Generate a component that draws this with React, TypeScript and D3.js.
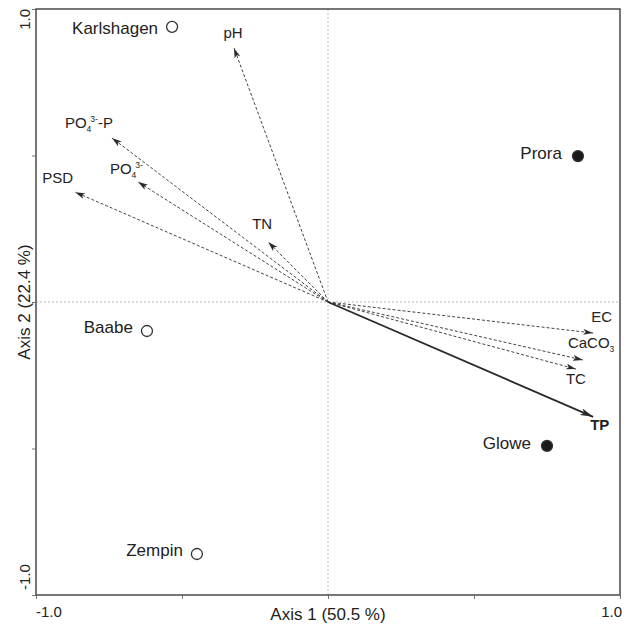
import React, { useEffect, useRef } from 'react'
import * as d3 from 'd3'

// ordination scores
const sites = ['Karlshagen', 'Prora', 'Baabe', 'Glowe', 'Zempin']
const siteAxis1 = [-0.534, 0.856, -0.62, 0.75, -0.449]
const siteAxis2 = [0.939, 0.498, -0.099, -0.491, -0.86]
const siteFilled = [false, true, false, true, false]

const variables = ['pH', 'PO4-P', 'PO4', 'PSD', 'TN', 'EC', 'CaCO3', 'TC', 'TP']
const varAxis1 = [-0.322, -0.74, -0.651, -0.866, -0.205, 0.908, 0.873, 0.849, 0.908]
const varAxis2 = [0.867, 0.56, 0.41, 0.375, 0.205, -0.106, -0.198, -0.229, -0.392]

const axisTicks = [-1, -0.5, 0, 0.5, 1]
const axis1Title = 'Axis 1 (50.5 %)'
const axis2Title = 'Axis 2 (22.4 %)'

// label placement, px from the point / arrow tip
const siteLabelPos: Record<string, [number, number]> = {
	Karlshagen: [-14, 1],
	Prora: [-16, -3],
	Baabe: [-14, -4],
	Glowe: [-16, -3],
	Zempin: [-14, -4],
}
const varLabelPos: Record<string, [number, number, string]> = {
	pH: [-1, -10, 'middle'],
	'PO4-P': [1, -10, 'end'],
	PO4: [5, -8, 'end'],
	PSD: [-2, -9, 'end'],
	TN: [-6, -13, 'middle'],
	EC: [-2, -11, 'start'],
	CaCO3: [-15, -12, 'start'],
	TC: [-10, 15, 'start'],
	TP: [-3, 13, 'start'],
}

type Part = { t: string; shift?: 'sub' | 'sup' }
const labelParts = (name: string): Part[] => {
	if (name === 'PO4-P') return [{ t: 'PO' }, { t: '4', shift: 'sub' }, { t: '3-', shift: 'sup' }, { t: '-P' }]
	if (name === 'PO4') return [{ t: 'PO' }, { t: '4', shift: 'sub' }, { t: '3-', shift: 'sup' }]
	if (name === 'CaCO3') return [{ t: 'CaCO' }, { t: '3', shift: 'sub' }]
	return [{ t: name }]
}

export default function App() {
	const ref = useRef<SVGSVGElement>(null)

	useEffect(() => {
		const svg = d3.select(ref.current)
		svg.selectAll('*').remove()

		const x = d3.scaleLinear().domain([-1, 1]).range([36, 620])
		const y = d3.scaleLinear().domain([-1, 1]).range([595, 9])

		const defs = svg.append('defs')
		const marker = (id: string, w: number, h: number) =>
			defs
				.append('marker')
				.attr('id', id)
				.attr('markerUnits', 'userSpaceOnUse')
				.attr('markerWidth', w)
				.attr('markerHeight', h)
				.attr('refX', w)
				.attr('refY', h / 2)
				.attr('orient', 'auto')
				.append('path')
				.attr('d', `M0,0L${w},${h / 2}L0,${h}L${w * 0.25},${h / 2}Z`)
				.attr('fill', '#2a2a2a')
		marker('arrow', 10, 6)
		marker('arrowBig', 13, 7)

		// centre lines
		svg
			.append('line')
			.attr('x1', x(0))
			.attr('x2', x(0))
			.attr('y1', y(1))
			.attr('y2', y(-1))
			.attr('stroke', '#aaa')
			.attr('stroke-width', 0.8)
			.attr('stroke-dasharray', '2,2')
		svg
			.append('line')
			.attr('x1', x(-1))
			.attr('x2', x(1))
			.attr('y1', y(0))
			.attr('y2', y(0))
			.attr('stroke', '#aaa')
			.attr('stroke-width', 0.8)
			.attr('stroke-dasharray', '2,2')

		// ticks
		const gx = svg
			.append('g')
			.attr('transform', `translate(0,${y(-1)})`)
			.call(d3.axisBottom(x).tickValues(axisTicks).tickSize(4).tickFormat(() => ''))
		const gy = svg
			.append('g')
			.attr('transform', `translate(${x(-1)},0)`)
			.call(d3.axisLeft(y).tickValues(axisTicks).tickSize(4).tickFormat(() => ''))
		;[gx, gy].forEach((g) => {
			g.select('.domain').remove()
			g.selectAll('line').attr('stroke', '#777')
		})

		// frame
		svg
			.append('rect')
			.attr('x', x(-1))
			.attr('y', y(1))
			.attr('width', x(1) - x(-1))
			.attr('height', y(-1) - y(1))
			.attr('fill', 'none')
			.attr('stroke', '#555')
			.attr('stroke-width', 1.6)

		const font = "'Liberation Sans', Arial, sans-serif"
		const txt = '#222'

		// tick labels
		svg.append('text').attr('x', x(-1)).attr('y', 617).attr('font-size', 15).attr('fill', txt).text('-1.0')
		svg
			.append('text')
			.attr('x', x(1) + 2)
			.attr('y', 617)
			.attr('text-anchor', 'end')
			.attr('font-size', 15)
			.attr('fill', txt)
			.text('1.0')
		svg
			.append('text')
			.attr('transform', `translate(30,${y(1)}) rotate(-90)`)
			.attr('text-anchor', 'end')
			.attr('font-size', 15)
			.attr('fill', txt)
			.text('1.0')
		svg
			.append('text')
			.attr('transform', `translate(30,${y(-1) - 5}) rotate(-90)`)
			.attr('font-size', 15)
			.attr('fill', txt)
			.text('-1.0')

		// axis titles
		svg
			.append('text')
			.attr('x', x(0))
			.attr('y', 620)
			.attr('text-anchor', 'middle')
			.attr('font-size', 17)
			.attr('fill', txt)
			.text(axis1Title)
		svg
			.append('text')
			.attr('transform', `translate(30,${y(0)}) rotate(-90)`)
			.attr('text-anchor', 'middle')
			.attr('font-size', 17)
			.attr('fill', txt)
			.text(axis2Title)

		// environmental vectors
		variables.forEach((v, i) => {
			const isTP = v === 'TP'
			const tx = x(varAxis1[i])
			const ty = y(varAxis2[i])
			svg
				.append('line')
				.attr('x1', x(0))
				.attr('y1', y(0))
				.attr('x2', tx)
				.attr('y2', ty)
				.attr('stroke', isTP ? '#2a2a2a' : '#444')
				.attr('stroke-width', isTP ? 1.8 : 1)
				.attr('stroke-dasharray', isTP ? null : '3,2')
				.attr('marker-end', `url(#${isTP ? 'arrowBig' : 'arrow'})`)

			const [dx, dy, anchor] = varLabelPos[v]
			const t = svg
				.append('text')
				.attr('x', tx + dx)
				.attr('y', ty + dy)
				.attr('dy', '0.35em')
				.attr('text-anchor', anchor)
				.attr('font-size', 15)
				.attr('font-weight', isTP ? 'bold' : 'normal')
				.attr('fill', txt)
			let base = 0
			labelParts(v).forEach((p, k) => {
				const target = p.shift === 'sub' ? 4 : p.shift === 'sup' ? -6 : 0
				const sp = t.append('tspan').attr('dy', target - base).text(p.t)
				if (p.shift) sp.attr('font-size', 8.5)
				if (p.shift === 'sup') sp.attr('dx', -1)
				base = target
				void k
			})
		})

		// sites
		sites.forEach((s, i) => {
			const cx = x(siteAxis1[i])
			const cy = y(siteAxis2[i])
			svg
				.append('circle')
				.attr('cx', cx)
				.attr('cy', cy)
				.attr('r', 5.5)
				.attr('fill', siteFilled[i] ? '#1a1a1a' : '#fff')
				.attr('stroke', '#333')
				.attr('stroke-width', 1.3)
			const [dx, dy] = siteLabelPos[s]
			svg
				.append('text')
				.attr('x', cx + dx)
				.attr('y', cy + dy)
				.attr('dy', '0.35em')
				.attr('text-anchor', 'end')
				.attr('font-size', 17)
				.attr('fill', txt)
				.text(s)
		})

		svg.selectAll('text').attr('font-family', font)
	}, [])

	return (
		<svg
			ref={ref}
			width={625}
			height={628}
			style={{ position: 'absolute', left: 0, top: 0, background: '#fff' }}
		/>
	)
}
